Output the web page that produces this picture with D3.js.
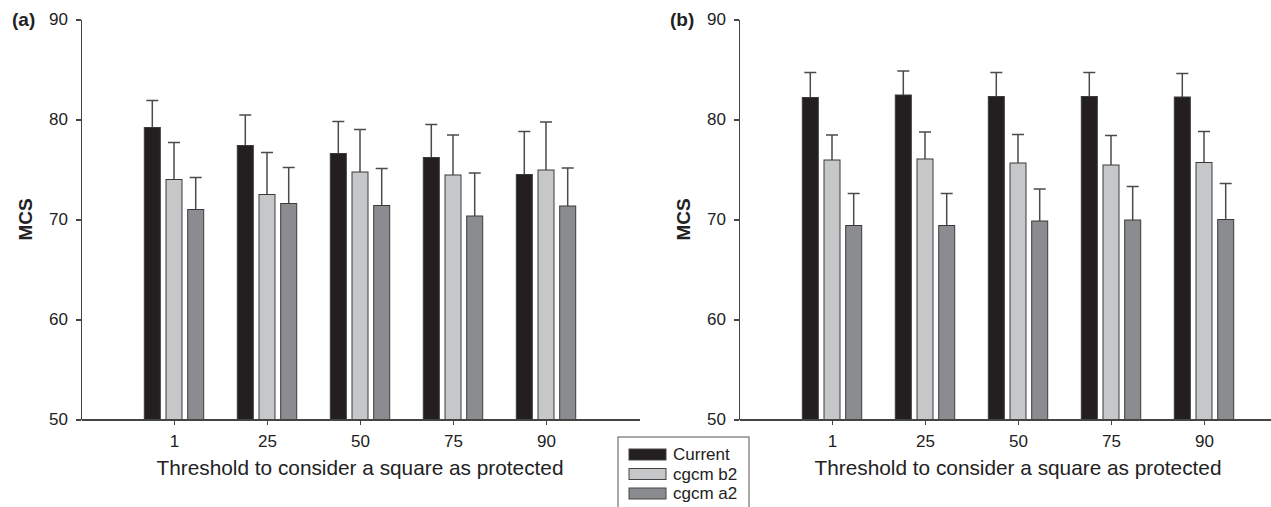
<!DOCTYPE html>
<html>
<head>
<meta charset="utf-8">
<title>MCS by protection threshold</title>
<style>
  body { margin: 0; background: #fff; }
  svg { display: block; font-family: "Liberation Sans", Arial, sans-serif; }
  .axis path, .axis line { stroke: #444; stroke-width: 1.4px; shape-rendering: crispEdges; }
  .axis text { fill: #222; font-size: 17px; font-family: "Liberation Sans", Arial, sans-serif; }
</style>
</head>
<body>
<svg width="1271" height="507"></svg>
<script src="https://d3js.org/d3.v7.min.js"></script>
<script>
// data
var thresholds = ["1", "25", "50", "75", "90"];
var seriesNames = ["Current", "cgcm b2", "cgcm a2"];
var yTicks = [50, 60, 70, 80, 90];

// panel (a)
var aCurrent = [79.2, 77.4, 76.6, 76.2, 74.5];
var aCurrentErr = [2.7, 3.05, 3.2, 3.3, 4.3];
var aB2 = [74.0, 72.5, 74.75, 74.45, 74.95];
var aB2Err = [3.7, 4.2, 4.25, 4.0, 4.8];
var aA2 = [71.0, 71.6, 71.4, 70.35, 71.35];
var aA2Err = [3.2, 3.6, 3.7, 4.3, 3.8];

// panel (b)
var bCurrent = [82.2, 82.45, 82.3, 82.3, 82.25];
var bCurrentErr = [2.5, 2.4, 2.4, 2.4, 2.35];
var bB2 = [75.95, 76.05, 75.65, 75.45, 75.7];
var bB2Err = [2.5, 2.7, 2.85, 2.95, 3.1];
var bA2 = [69.4, 69.4, 69.85, 69.95, 70.0];
var bA2Err = [3.2, 3.2, 3.2, 3.35, 3.6];

var colors = ["#231f20", "#c6c7c9", "#8b8c90"];

var svg = d3.select("svg");

var y = d3.scaleLinear().domain([50, 90]).range([419.5, 19.5]);

function drawPanel(ox, label, vals, errs) {
  var g = svg.append("g");
  var x = d3.scaleLinear().domain([0, 6]).range([ox, ox + 558]);
  var off = d3.scalePoint().domain(seriesNames).range([-21.7, 21.7]);
  var bw = 16;

  var rows = [];
  seriesNames.forEach(function(s, si) {
    thresholds.forEach(function(t, ti) {
      rows.push({ s: s, si: si, i: ti, v: vals[si][ti], e: errs[si][ti] });
    });
  });

  // error bars (upper only), drawn under bars
  var eb = g.append("g").attr("stroke", "#4a4a4a").attr("stroke-width", 1.5);
  eb.selectAll("line.w").data(rows).enter().append("line")
    .attr("x1", function(d) { return x(d.i + 1) + off(d.s); })
    .attr("x2", function(d) { return x(d.i + 1) + off(d.s); })
    .attr("y1", function(d) { return y(d.v); })
    .attr("y2", function(d) { return y(d.v + d.e); });
  eb.selectAll("line.c").data(rows).enter().append("line")
    .attr("x1", function(d) { return x(d.i + 1) + off(d.s) - 6; })
    .attr("x2", function(d) { return x(d.i + 1) + off(d.s) + 6; })
    .attr("y1", function(d) { return y(d.v + d.e); })
    .attr("y2", function(d) { return y(d.v + d.e); });

  g.append("g").selectAll("rect").data(rows).enter().append("rect")
    .attr("x", function(d) { return x(d.i + 1) + off(d.s) - bw / 2; })
    .attr("y", function(d) { return y(d.v); })
    .attr("width", bw)
    .attr("height", function(d) { return y(50) - y(d.v); })
    .attr("fill", function(d) { return colors[d.si]; })
    .attr("stroke", "#3a3a3a")
    .attr("stroke-width", 1);

  g.append("g")
    .attr("class", "axis")
    .attr("transform", "translate(0," + y(50) + ")")
    .call(d3.axisBottom(x).tickValues([1, 2, 3, 4, 5])
      .tickFormat(function(d) { return thresholds[d - 1]; })
      .tickSize(5).tickSizeOuter(0).tickPadding(10));

  g.append("g")
    .attr("class", "axis")
    .attr("transform", "translate(" + ox + ",0)")
    .call(d3.axisLeft(y).tickValues(yTicks).tickSize(5).tickSizeOuter(0).tickPadding(8));

  g.append("text")
    .attr("transform", "translate(" + (ox - 49) + "," + y(70) + ") rotate(-90)")
    .attr("text-anchor", "middle")
    .attr("font-size", 19)
    .attr("font-weight", "bold")
    .attr("fill", "#222")
    .text("MCS");

  g.append("text")
    .attr("x", ox + 279)
    .attr("y", 475)
    .attr("text-anchor", "middle")
    .attr("font-size", 20.8)
    .attr("fill", "#222")
    .text("Threshold to consider a square as protected");

  g.append("text")
    .attr("x", ox - 69)
    .attr("y", 26)
    .attr("font-size", 19)
    .attr("font-weight", "bold")
    .attr("fill", "#222")
    .text(label);
}

drawPanel(81, "(a)", [aCurrent, aB2, aA2], [aCurrentErr, aB2Err, aA2Err]);
drawPanel(739, "(b)", [bCurrent, bB2, bA2], [bCurrentErr, bB2Err, bA2Err]);

// legend
var legend = svg.append("g").attr("transform", "translate(618,437)");
legend.append("rect")
  .attr("width", 131).attr("height", 75)
  .attr("fill", "#fff").attr("stroke", "#555").attr("stroke-width", 1);
var items = legend.selectAll("g.item").data(seriesNames).enter().append("g")
  .attr("transform", function(d, i) { return "translate(11," + (12 + i * 19.5) + ")"; });
items.append("rect")
  .attr("width", 37).attr("height", 11)
  .attr("fill", function(d, i) { return colors[i]; })
  .attr("stroke", "#444").attr("stroke-width", 1);
items.append("text")
  .attr("x", 44).attr("y", 11)
  .attr("font-size", 17)
  .attr("fill", "#222")
  .text(function(d) { return d; });
</script>
</body>
</html>
